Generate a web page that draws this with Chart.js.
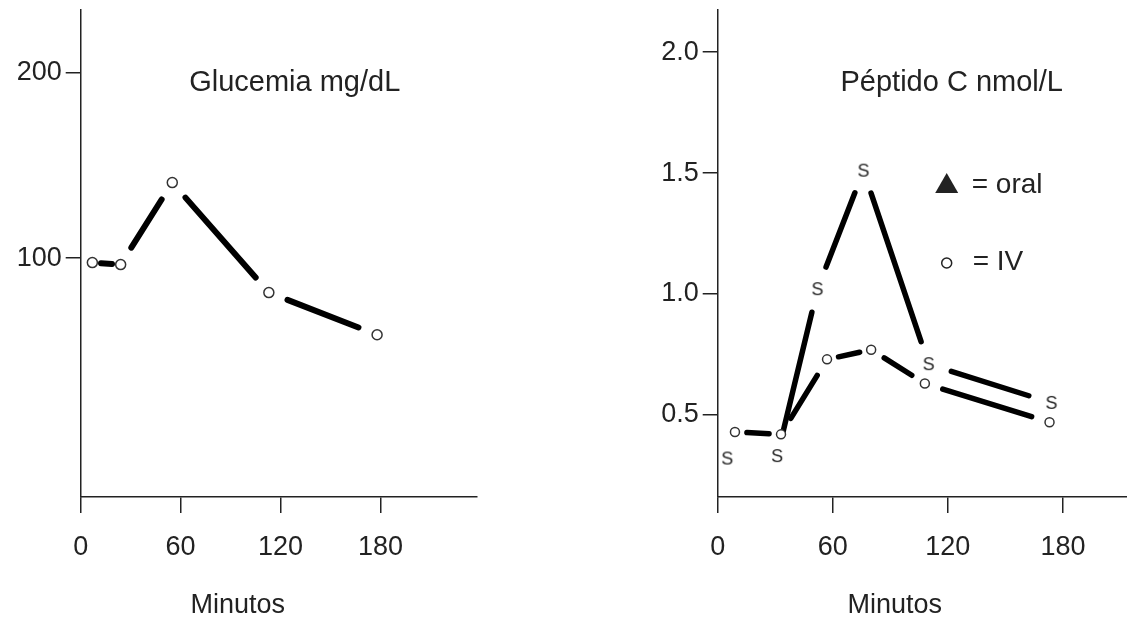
<!DOCTYPE html>
<html>
<head>
<meta charset="utf-8">
<script src="https://cdn.jsdelivr.net/npm/chart.js@4"></script>
<style>
  html, body { margin: 0; padding: 0; background: #fff; }
  #wrap { position: relative; width: 1127px; height: 622px; overflow: hidden; }
  canvas { position: absolute; top: 0; }
</style>
</head>
<body>
<div id="wrap">
  <canvas id="glucemia" width="560" height="622" style="left:0"></canvas>
  <canvas id="peptido" width="579" height="622" style="left:560px"></canvas>
</div>
<script>
  // minutes
  const xTicks = [0, 60, 120, 180];

  // Glucemia mg/dL
  const gluMin = [7, 24, 55, 113, 178];
  const gluVal = [97.6, 96.5, 140.8, 81.4, 58.6];
  const gluTicks = [100, 200];

  // Péptido C nmol/L, IV (circles) and oral (S)
  const ivMin = [9, 33, 57, 80, 108, 173];
  const ivVal = [0.43, 0.42, 0.73, 0.77, 0.63, 0.47];
  const oralMin = [5, 31, 52, 76, 110, 174];
  const oralVal = [0.32, 0.33, 1.02, 1.51, 0.71, 0.55];
  const pepTicks = [0.5, 1.0, 1.5, 2.0];

  const ink = '#222';
  const family = '"Liberation Sans", Arial, sans-serif';
  const tickFont = { family: family, size: 27 };

  function pts(xs, ys) {
    return xs.map((x, i) => ({ x: x, y: ys[i] }));
  }

  // the "S" marker used for the oral curve
  function letterMark(ch) {
    const c = document.createElement('canvas');
    c.width = 16;
    c.height = 20;
    const g = c.getContext('2d');
    g.font = '18px ' + family;
    g.fillStyle = ink;
    g.textAlign = 'center';
    g.textBaseline = 'middle';
    g.fillText(ch, 8, 11);
    return c;
  }
  const sMark = letterMark('S');

  function noPad(s) {
    s.paddingTop = 0;
    s.paddingBottom = 0;
    s.paddingLeft = 0;
    s.paddingRight = 0;
  }

  function axes(o) {
    const grid = (len) => ({ drawOnChartArea: false, drawTicks: true, tickLength: len, color: ink, lineWidth: 1.5 });
    const border = { display: true, color: ink, width: 1.5, z: 1 };
    return {
      x: {
        type: 'linear',
        min: 0,
        max: o.xMax,
        afterBuildTicks: s => { s.ticks = xTicks.map(v => ({ value: v })); },
        afterFit: s => { s.height = 125; noPad(s); },
        grid: grid(16),
        border: border,
        ticks: { color: ink, font: tickFont, padding: 18, maxRotation: 0 }
      },
      y: {
        type: 'linear',
        min: o.yMin,
        max: o.yMax,
        afterBuildTicks: s => { s.ticks = o.yTicks.map(v => ({ value: v })); },
        afterFit: s => { s.width = o.yWidth; noPad(s); },
        grid: grid(15),
        border: border,
        ticks: { color: ink, font: tickFont, padding: 4, callback: o.fmt }
      }
    };
  }

  // title text, axis name and the little key
  const notes = {
    id: 'notes',
    afterDraw(chart, args, opts) {
      const ctx = chart.ctx;
      const a = chart.chartArea;
      ctx.save();
      ctx.fillStyle = ink;
      ctx.strokeStyle = ink;
      ctx.textAlign = 'center';
      ctx.textBaseline = 'middle';
      ctx.font = '29px ' + family;
      ctx.fillText(opts.title, a.left + opts.titleDx, a.top + 73);
      ctx.font = '27px ' + family;
      ctx.fillText('Minutos', a.left + opts.xNameDx, a.bottom + 109);
      if (opts.key) {
        const kx = a.left + 229;
        // triangle = oral
        ctx.beginPath();
        ctx.moveTo(kx, a.top + 163);
        ctx.lineTo(kx + 11.5, a.top + 183);
        ctx.lineTo(kx - 11.5, a.top + 183);
        ctx.closePath();
        ctx.fill();
        // circle = IV
        ctx.beginPath();
        ctx.lineWidth = 1.5;
        ctx.arc(kx, a.top + 253, 5, 0, Math.PI * 2);
        ctx.stroke();
        ctx.textAlign = 'left';
        ctx.font = '28px ' + family;
        ctx.fillText('= oral', kx + 25, a.top + 175);
        ctx.fillText('= IV', kx + 26, a.top + 252);
      }
      ctx.restore();
    }
  };

  // every segment stops short of its two points, as in the original drawing
  function gapOf(c, width, maxGap) {
    const len = Math.hypot(c.p1.x - c.p0.x, c.p1.y - c.p0.y);
    const g = Math.min(0.2 * len, maxGap) + width / 2;
    return { len: len, g: g };
  }

  function lineSet(data, width, maxGap, hideFirst) {
    return {
      data: data,
      showLine: true,
      borderColor: '#000',
      borderWidth: width,
      borderCapStyle: 'round',
      pointRadius: 0,
      tension: 0,
      clip: false,
      order: 3,
      segment: {
        borderColor: c => (hideFirst && c.p0DataIndex === 0) ? 'rgba(0,0,0,0)' : '#000',
        borderDash: c => {
          const s = gapOf(c, width, maxGap);
          return [Math.max(s.len - 2 * s.g, 0.1), s.len + 20];
        },
        borderDashOffset: c => -gapOf(c, width, maxGap).g
      }
    };
  }
  function circleSet(data, r) {
    return { data: data, showLine: false, pointRadius: r, pointBackgroundColor: '#fff', pointBorderColor: '#333', pointBorderWidth: 1.5, clip: false, order: 1 };
  }

  const common = {
    responsive: false,
    animation: false,
    devicePixelRatio: 1,
    events: [],
    plugins: { legend: { display: false }, tooltip: { enabled: false } }
  };

  const glu = pts(gluMin, gluVal);
  new Chart(document.getElementById('glucemia'), {
    type: 'scatter',
    data: { datasets: [lineSet(glu, 6, 17, false), circleSet(glu, 5)] },
    options: Object.assign({}, common, {
      layout: { padding: { top: 10, right: 83, left: 0, bottom: 0 } },
      scales: axes({ xMax: 238, yMin: -29, yMax: 234, yTicks: gluTicks, yWidth: 80.7, fmt: v => String(v) }),
      plugins: Object.assign({}, common.plugins, { notes: { title: 'Glucemia mg/dL', titleDx: 214, xNameDx: 157 } })
    }),
    plugins: [notes]
  });

  const iv = pts(ivMin, ivVal);
  const oral = pts(oralMin, oralVal);
  new Chart(document.getElementById('peptido'), {
    type: 'scatter',
    data: {
      datasets: [
        lineSet(oral, 5.5, 21, true),
        lineSet(iv, 5.5, 16, false),
        circleSet(iv, 4.5),
        { data: oral, showLine: false, pointStyle: sMark, pointRadius: 6, clip: false, order: 1 }
      ]
    },
    options: Object.assign({}, common, {
      layout: { padding: { top: 10, right: 0, left: 0, bottom: 0 } },
      scales: axes({ xMax: 216, yMin: 0.161, yMax: 2.174, yTicks: pepTicks, yWidth: 157.7, fmt: v => v.toFixed(1) }),
      plugins: Object.assign({}, common.plugins, { notes: { title: 'Péptido C nmol/L', titleDx: 234, xNameDx: 177, key: true } })
    }),
    plugins: [notes]
  });
</script>
</body>
</html>
